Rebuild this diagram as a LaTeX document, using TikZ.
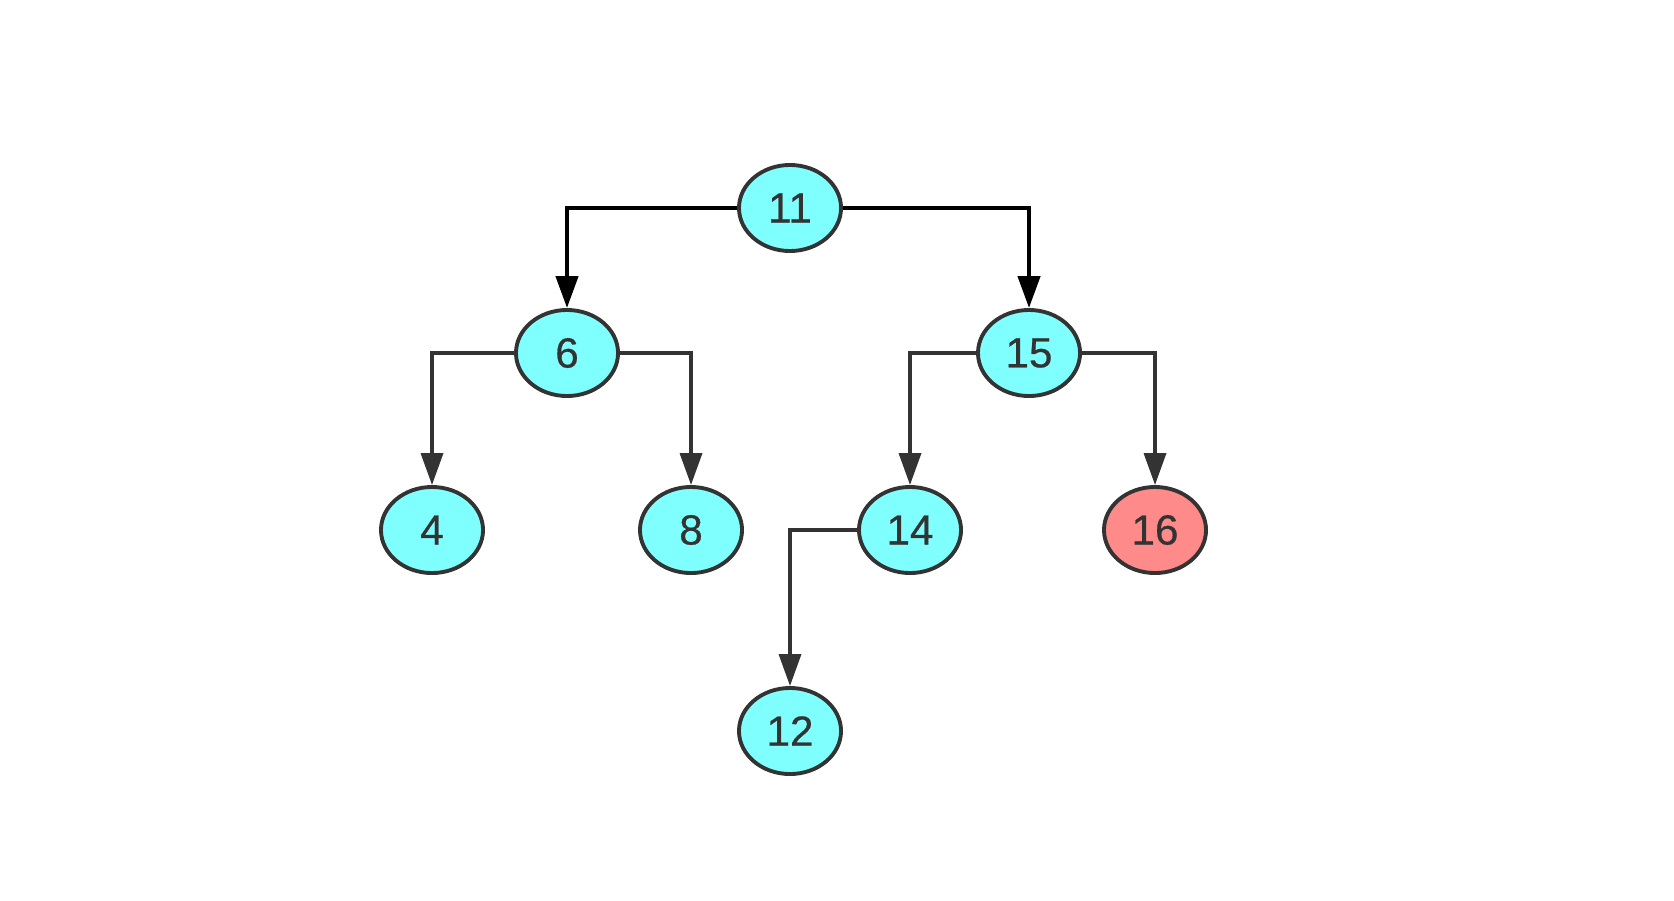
\documentclass[tikz,border=0pt]{standalone}
\usepackage{fontspec}
\setmainfont{Liberation Sans}
\newfontfamily\keyfont[FakeBold=0.6]{Liberation Sans}
\usetikzlibrary{shapes.geometric, arrows.meta}
\definecolor{keycyan}{HTML}{80FFFF}
\definecolor{keyred}{HTML}{FF8A8A}
\definecolor{edgegrey}{HTML}{333333}

\begin{document}
\begin{tikzpicture}[
  x=0.01cm, y=-0.01cm,
  key/.style={ellipse, draw=edgegrey, line width=1.1pt, fill=keycyan, minimum width=1.02cm, minimum height=0.86cm, inner sep=0pt, font=\keyfont\fontsize{12}{14}\selectfont, text=edgegrey},
  arr/.style={-{Triangle[length=3.2mm, width=2.2mm]}, line width=1pt, draw=edgegrey},
  toparr/.style={arr, line width=1.25pt, draw=black}
]
  \useasboundingbox (0,0) rectangle (1674,900);
  \node[key] (n11) at (790,208) {11};
  \node[key] (n6) at (567,353) {6};
  \node[key] (n15) at (1029,353) {15};
  \node[key] (n4) at (432,530) {4};
  \node[key] (n8) at (691,530) {8};
  \node[key] (n14) at (910,530) {14};
  \node[key, fill=keyred] (n16) at (1155,530) {16};
  \node[key] (n12) at (790,731) {12};

  \draw[toparr] (n11.west) -| (n6.north);
  \draw[toparr] (n11.east) -| (n15.north);
  \draw[arr] (n6.west) -| (n4.north);
  \draw[arr] (n6.east) -| (n8.north);
  \draw[arr] (n15.west) -| (n14.north);
  \draw[arr] (n15.east) -| (n16.north);
  \draw[arr] (n14.west) -| (n12.north);
\end{tikzpicture}
\end{document}
